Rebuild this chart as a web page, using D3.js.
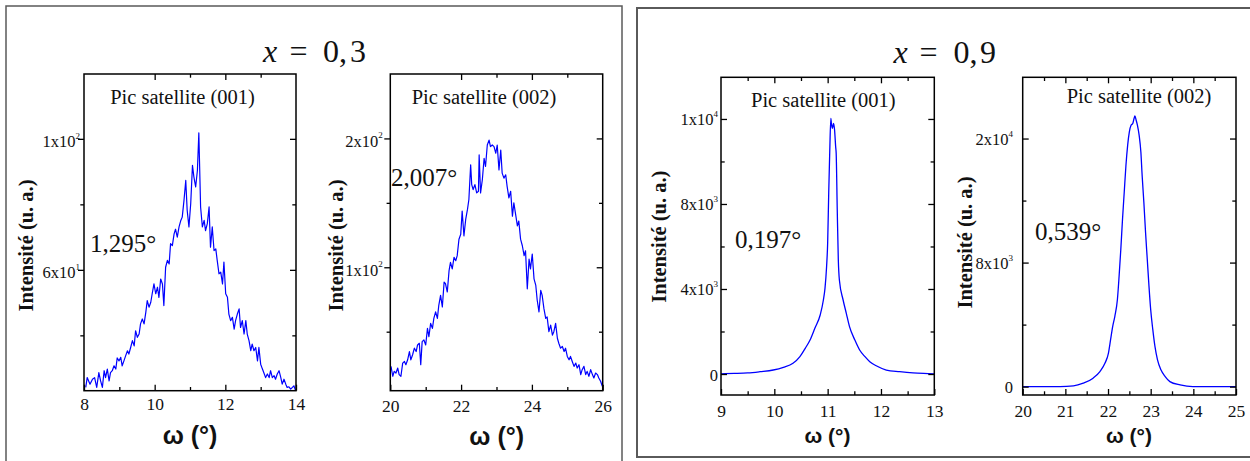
<!DOCTYPE html>
<html><head><meta charset="utf-8">
<script src="https://cdn.jsdelivr.net/npm/d3@7"></script>
<style>
body{margin:0;background:#fff}svg{display:block}
.serif{font-family:"Liberation Serif","Times New Roman",Times,"DejaVu Serif","Noto Serif",serif}
.sans{font-family:"Liberation Sans",Arial,Helvetica,"DejaVu Sans",sans-serif}
</style>
</head><body>
<svg id="c" width="1250" height="461"></svg>
<script>
// ---------------- DATA ----------------
// x = 0,3 — Pic satellite (001)
const omega_03_001 = [8.05,8.09,8.17,8.24,8.30,8.36,8.42,8.47,8.52,8.57,8.61,8.66,8.71,8.75,8.80,8.85,8.90,8.94,8.99,9.04,9.08,9.13,9.18,9.23,9.27,9.32,9.37,9.42,9.46,9.51,9.56,9.60,9.65,9.70,9.75,9.79,9.84,9.89,9.93,9.98,10.03,10.08,10.12,10.17,10.22,10.26,10.31,10.36,10.41,10.45,10.50,10.55,10.59,10.64,10.69,10.74,10.78,10.83,10.88,10.92,10.97,11.02,11.07,11.11,11.16,11.21,11.25,11.30,11.35,11.40,11.44,11.49,11.54,11.58,11.63,11.68,11.73,11.77,11.82,11.87,11.92,11.96,12.01,12.06,12.10,12.15,12.20,12.25,12.29,12.34,12.39,12.43,12.48,12.53,12.58,12.62,12.67,12.72,12.76,12.81,12.86,12.91,12.95,13.00,13.05,13.09,13.14,13.19,13.24,13.28,13.33,13.38,13.42,13.47,13.52,13.57,13.61,13.66,13.71,13.75,13.80,13.85,13.90,13.94,13.99];
const int_03_001 = [24.1,27.1,25.1,26.6,27.1,24.1,28.6,26.1,24.1,29.2,27.1,29.7,26.1,28.6,29.2,30.7,29.7,33.1,32.2,33.3,30.7,32.2,33.8,35.3,34.3,36.3,38.4,36.8,41.4,39.4,40.4,43.5,45.0,43.5,47.1,50.6,48.6,50.1,52.7,55.7,52.7,54.7,51.6,57.2,55.7,49.1,60.8,62.9,61.8,68.0,67.4,71.0,72.4,70.0,73.1,75.1,76.1,81.2,87.3,78.2,73.1,80.2,91.9,88.4,85.3,90.4,101.8,79.2,73.1,75.1,72.0,74.1,79.2,66.9,73.1,65.9,66.4,62.9,58.8,59.3,55.7,62.4,52.7,51.6,46.5,44.5,45.5,41.9,44.5,46.5,48.1,42.4,44.5,40.4,44.5,40.4,38.4,35.3,37.3,35.3,36.3,32.2,36.3,31.2,29.7,28.6,27.1,28.2,27.1,29.2,27.1,27.7,26.6,28.2,29.2,27.1,25.1,26.6,25.1,24.1,24.3,23.6,24.1,24.6,23.1];

// x = 0,3 — Pic satellite (002)
const omega_03_002 = [20.02,20.07,20.11,20.16,20.21,20.25,20.30,20.35,20.40,20.44,20.49,20.54,20.58,20.63,20.68,20.73,20.77,20.82,20.86,20.90,20.95,21.00,21.05,21.09,21.14,21.19,21.23,21.28,21.33,21.37,21.42,21.47,21.52,21.56,21.61,21.66,21.70,21.75,21.80,21.85,21.89,21.94,21.99,22.03,22.08,22.13,22.18,22.22,22.27,22.30,22.34,22.39,22.44,22.49,22.51,22.55,22.60,22.65,22.69,22.74,22.79,22.83,22.88,22.93,22.98,23.02,23.07,23.12,23.16,23.21,23.26,23.30,23.35,23.40,23.45,23.49,23.54,23.59,23.63,23.68,23.73,23.78,23.82,23.87,23.92,23.96,24.01,24.06,24.11,24.15,24.20,24.25,24.29,24.34,24.39,24.43,24.48,24.53,24.58,24.62,24.67,24.72,24.76,24.81,24.86,24.91,24.95,25.00,25.05,25.09,25.14,25.19,25.24,25.28,25.33,25.38,25.42,25.47,25.52,25.56,25.61,25.66,25.71,25.75,25.80,25.85,25.89,25.94,25.99];
const int_03_002 = [23.1,15.4,19.2,17.9,21.8,16.7,15.4,25.6,26.9,24.4,28.2,34.6,28.2,32.1,37.2,34.6,39.7,41.0,24.4,42.3,43.6,39.7,52.6,46.2,56.4,52.6,60.3,65.4,60.3,70.5,78.2,69.2,88.5,87.2,80.8,97.4,103.8,98.7,107.7,105.1,109.0,121.8,125.6,143.6,124.4,137.2,144.9,152.6,179.5,164.1,160.3,164.1,157.7,159.0,187.2,157.7,167.9,184.6,178.2,194.9,198.7,193.6,194.9,193.6,188.5,194.9,175.6,191.0,173.1,169.2,171.8,162.8,153.8,159.0,139.7,150.0,141.0,132.1,135.9,121.8,116.7,109.0,112.8,83.3,106.4,98.7,110.3,91.0,85.9,74.4,65.4,82.1,78.2,67.9,60.3,61.5,50.0,55.1,47.4,50.0,56.4,44.9,41.0,37.2,38.5,34.6,37.2,30.8,28.2,30.8,26.9,23.1,25.6,21.8,24.4,16.7,20.5,23.1,16.7,19.2,15.4,20.5,16.7,14.1,17.9,16.7,14.1,11.5,7.7];

// x = 0,9 — Pic satellite (001)
const omega_09_001 = [9.0,9.25,9.5,9.73,9.98,10.17,10.35,10.48,10.58,10.67,10.76,10.86,10.92,10.95,10.98,11.00,11.02,11.04,11.06,11.07,11.09,11.11,11.13,11.15,11.16,11.18,11.20,11.22,11.29,11.35,11.41,11.51,11.60,11.70,11.79,11.92,12.10,12.35,12.6,12.8,13.0];
const int_09_001 = [10,25,50,108,188,314,502,816,1208,1600,2149,2776,3482,4031,5050,6149,8502,10540,12031,11796,11561,11796,11482,10697,10383,7718,5365,4424,3482,2855,2227,1600,1129,816,580,376,188,108,50,25,10];

// x = 0,9 — Pic satellite (002)
const omega_09_002 = [20.0,20.5,20.87,21.19,21.42,21.65,21.81,21.93,22.01,22.06,22.11,22.16,22.22,22.26,22.30,22.34,22.38,22.42,22.46,22.50,22.54,22.58,22.61,22.63,22.66,22.69,22.73,22.77,22.80,22.84,22.88,22.92,22.96,23.00,23.05,23.10,23.16,23.24,23.34,23.45,23.69,23.99,24.31,24.6,25.0];
const int_09_002 = [0,0,0,45,220,545,973,1517,2165,3028,3890,4538,5621,7131,8862,10807,12538,14263,15559,16428,16856,16966,17290,17465,17180,16856,16208,15131,13614,11890,9945,8214,6483,4972,3676,2593,1731,1083,648,324,110,0,0,0,0];

// Tick values and labels
const xMajor_03_001 = [8,10,12,14], xMinor_03_001 = [9,11,13];
const xMajor_03_002 = [20,22,24,26], xMinor_03_002 = [21,23,25];
const xMajor_09_001 = [9,10,11,12,13], xMinor_09_001 = [9.5,10.5,11.5,12.5];
const xMajor_09_002 = [20,21,22,23,24,25], xMinor_09_002 = [20.5,21.5,22.5,23.5,24.5];
const yMajor_03_001 = [60,100], yMinor_03_001 = [40,80];
const yLabels_03_001 = [["6x10","1"],["1x10","2"]];
const yMajor_03_002 = [100,200], yMinor_03_002 = [50,150];
const yLabels_03_002 = [["1x10","2"],["2x10","2"]];
const yMajor_09_001 = [0,4000,8000,12000], yMinor_09_001 = [2000,6000,10000];
const yLabels_09_001 = [["0",""],["4x10","3"],["8x10","3"],["1x10","4"]];
const yMajor_09_002 = [0,8000,16000], yMinor_09_002 = [4000,12000];
const yLabels_09_002 = [["0",""],["8x10","3"],["2x10","4"]];

const peakTitles = ["Pic satellite (001)","Pic satellite (002)","Pic satellite (001)","Pic satellite (002)"];
const fwhmLabels = ["1,295°","2,007°","0,197°","0,539°"];
const groupTitles = [["x","=","0,","3"],["x","=","0,","9"]];
const yTitle = "Intensité (u. a.)";
const xTitle = "ω (°)";

// ---------------- LAYOUT ----------------
const panels = [
  {om:omega_03_001, it:int_03_001, xMajor:xMajor_03_001, xMinor:xMinor_03_001, yMajor:yMajor_03_001, yMinor:yMinor_03_001, yLabels:yLabels_03_001,
   xDom:[8,14], yDom:[23.1,119.8], L:84, R:296, T:74, B:390.7, leftOut:true, yLabEnd:80, yLabDy:8, xLabY:19.5, xLabFs:17.5,
   title:peakTitles[0], tX:182.5, tY:104, fwhm:fwhmLabels[0], fX:90, fY:252, yTX:33, yTY:245.5, xTX:190, xTY:443.5, xTFs:25, smooth:false, topSkip:[9]},
  {om:omega_03_002, it:int_03_002, xMajor:xMajor_03_002, xMinor:xMinor_03_002, yMajor:yMajor_03_002, yMinor:yMinor_03_002, yLabels:yLabels_03_002,
   xDom:[20,26], yDom:[4.2,250], L:390.3, R:602.7, T:74, B:390.7, leftOut:true, yLabEnd:382.7, yLabDy:8, xLabY:21, xLabFs:17.5,
   title:peakTitles[1], tX:484, tY:103.5, fwhm:fwhmLabels[1], fX:391, fY:186, yTX:343, yTY:245.5, xTX:496.7, xTY:445, xTFs:25, smooth:false, topSkip:[21]},
  {om:omega_09_001, it:int_09_001, xMajor:xMajor_09_001, xMinor:xMinor_09_001, yMajor:yMajor_09_001, yMinor:yMinor_09_001, yLabels:yLabels_09_001,
   xDom:[9,13], yDom:[-988,13960], L:721, R:934.3, T:77.3, B:395, leftOut:false, yLabEnd:718, yLabDy:6, xLabY:21.5, xLabFs:17.5,
   title:peakTitles[2], tX:823.3, tY:107.3, fwhm:fwhmLabels[2], fX:735, fY:248, yTX:666, yTY:236.7, xTX:827.5, xTY:443.3, xTFs:21, smooth:true, topSkip:[]},
  {om:omega_09_002, it:int_09_002, xMajor:xMajor_09_002, xMinor:xMinor_09_002, yMajor:yMajor_09_002, yMinor:yMinor_09_002, yLabels:yLabels_09_002,
   xDom:[20,25], yDom:[-540,19950], L:1022.7, R:1236, T:77.3, B:395, leftOut:false, yLabEnd:1013, yLabDy:6, xLabY:21.5, xLabFs:17.5,
   title:peakTitles[3], tX:1139, tY:102.7, fwhm:fwhmLabels[3], fX:1035, fY:240, yTX:972, yTY:242.5, xTX:1129, xTY:443.3, xTFs:21, smooth:true, topSkip:[]}
];

const svg = d3.select("#c");

// outer boxes
svg.append("rect").attr("x",6).attr("y",6).attr("width",616).attr("height",470)
  .attr("fill","none").attr("stroke","#5a5a5a").attr("stroke-width",1.5);
svg.append("rect").attr("x",637).attr("y",8).attr("width",625).attr("height",449)
  .attr("fill","none").attr("stroke","#5a5a5a").attr("stroke-width",2);

// group titles (x = 0,3 / x = 0,9)
const titlePos = [{x:[263,289.5,323,350], y:61.5},{x:[893.5,919.5,953.5,980], y:63}];
groupTitles.forEach((parts,i) => {
  const t = svg.append("text").attr("class","serif").style("font-size","32px").attr("fill","#111");
  parts.forEach((s,j) => {
    t.append("tspan").attr("x",titlePos[i].x[j]).attr("y",titlePos[i].y)
      .style("font-style", j===0 ? "italic" : "normal").text(s);
  });
});

const majorLen = 6, minorLen = 3.7;

panels.forEach((p,pi) => {
  const x = d3.scaleLinear().domain(p.xDom).range([p.L,p.R]);
  const y = d3.scaleLinear().domain(p.yDom).range([p.B,p.T]);
  const g = svg.append("g");

  const cid = "clip"+pi;
  g.append("clipPath").attr("id",cid).append("rect")
    .attr("x",p.L).attr("y",p.T).attr("width",p.R-p.L).attr("height",p.B-p.T);

  const pts = p.om.map((d,i)=>[d,p.it[i]]);
  const line = d3.line().x(d=>x(d[0])).y(d=>y(d[1]))
    .curve(p.smooth ? d3.curveMonotoneX : d3.curveLinear);
  g.append("path").datum(pts).attr("d",line).attr("clip-path",`url(#${cid})`)
    .attr("fill","none").attr("stroke","#0000ff").attr("stroke-width",p.smooth?1.3:1.2)
    .attr("stroke-linejoin","round");

  const styleAxis = sel => {
    sel.attr("font-family",null);
    sel.select(".domain").remove();
    sel.selectAll(".tick line").attr("stroke","#000").attr("stroke-width",1.3);
  };

  // bottom
  const bMaj = g.append("g").attr("transform",`translate(0,${p.B})`)
    .call(d3.axisBottom(x).tickValues(p.xMajor).tickSizeInner(-majorLen).tickSizeOuter(0).tickFormat(d3.format("d")));
  styleAxis(bMaj);
  bMaj.selectAll(".tick text").attr("y",p.xLabY).attr("dy",0).attr("class","serif")
    .style("font-size",p.xLabFs+"px").attr("fill","#111");
  const bMin = g.append("g").attr("transform",`translate(0,${p.B})`)
    .call(d3.axisBottom(x).tickValues(p.xMinor).tickSizeInner(-minorLen).tickSizeOuter(0).tickFormat(""));
  styleAxis(bMin);

  // top
  const tMaj = g.append("g").attr("transform",`translate(0,${p.T})`)
    .call(d3.axisTop(x).tickValues(p.xMajor.filter(v=>v!==p.xDom[0]&&v!==p.xDom[1])).tickSizeInner(-majorLen).tickSizeOuter(0).tickFormat(""));
  styleAxis(tMaj);
  const tMin = g.append("g").attr("transform",`translate(0,${p.T})`)
    .call(d3.axisTop(x).tickValues(p.xMinor.filter(v=>!p.topSkip.includes(v))).tickSizeInner(-minorLen).tickSizeOuter(0).tickFormat(""));
  styleAxis(tMin);

  // left
  const lab = new Map(p.yMajor.map((v,i)=>[v,p.yLabels[i]]));
  const lMaj = g.append("g").attr("transform",`translate(${p.L},0)`)
    .call(d3.axisLeft(y).tickValues(p.yMajor).tickSizeInner(p.leftOut?majorLen:-majorLen).tickSizeOuter(0)
      .tickFormat(d=>lab.get(d)[0]));
  styleAxis(lMaj);
  lMaj.selectAll(".tick text").attr("x",p.yLabEnd-p.L).attr("dy",0).attr("y",p.yLabDy)
    .attr("class","serif").style("font-size","16.5px").attr("fill","#111")
    .each(function(d){
      const sup = lab.get(d)[1];
      if (sup) d3.select(this).append("tspan").attr("dy",-8.5).style("font-size","9px").text(sup);
    });
  const lMin = g.append("g").attr("transform",`translate(${p.L},0)`)
    .call(d3.axisLeft(y).tickValues(p.yMinor).tickSizeInner(p.leftOut?minorLen:-minorLen).tickSizeOuter(0).tickFormat(""));
  styleAxis(lMin);

  // right
  const rMaj = g.append("g").attr("transform",`translate(${p.R},0)`)
    .call(d3.axisRight(y).tickValues(p.yMajor).tickSizeInner(-majorLen).tickSizeOuter(0).tickFormat(""));
  styleAxis(rMaj);
  const rMin = g.append("g").attr("transform",`translate(${p.R},0)`)
    .call(d3.axisRight(y).tickValues(p.yMinor).tickSizeInner(-minorLen).tickSizeOuter(0).tickFormat(""));
  styleAxis(rMin);

  // frame
  g.append("rect").attr("x",p.L).attr("y",p.T).attr("width",p.R-p.L).attr("height",p.B-p.T)
    .attr("fill","none").attr("stroke","#000").attr("stroke-width",1.5);

  // texts
  g.append("text").attr("x",p.tX).attr("y",p.tY).attr("text-anchor","middle")
    .attr("class","serif").style("font-size","20.5px").attr("fill","#111").text(p.title);
  g.append("text").attr("x",p.fX).attr("y",p.fY)
    .attr("class","serif").style("font-size","25px").attr("fill","#111").text(p.fwhm);
  g.append("text").attr("transform",`translate(${p.yTX},${p.yTY}) rotate(-90)`).attr("text-anchor","middle")
    .attr("class","serif").style("font-weight","bold").style("font-size","20.5px").attr("fill","#111").text(yTitle);
  g.append("text").attr("x",p.xTX).attr("y",p.xTY).attr("text-anchor","middle")
    .attr("class","sans").style("font-weight","bold").style("font-size",p.xTFs+"px").attr("fill","#111").text(xTitle);
});
</script>
</body></html>
